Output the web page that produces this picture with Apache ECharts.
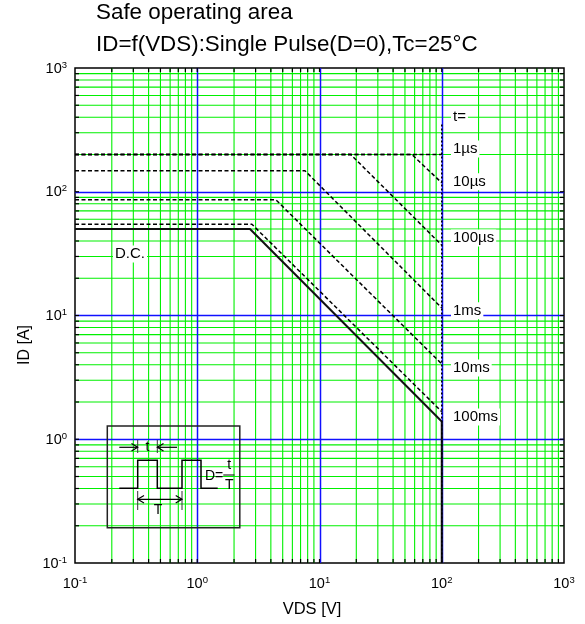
<!DOCTYPE html>
<html><head><meta charset="utf-8">
<script src="https://cdn.jsdelivr.net/npm/echarts@6/dist/echarts.min.js"></script>
<style>html,body{margin:0;padding:0;background:#fff}#c{width:585px;height:624px}</style>
</head><body><div id="c"></div>
<script>
const FONT = '"Liberation Sans", Arial, Helvetica, sans-serif';
// axis ticks
const tickExponents = [-1, 0, 1, 2, 3];
const decadeStarts = [0.1, 1, 10, 100];
const minorMultipliers = [2, 3, 4, 5, 6, 7, 8, 9];
const majorValues = [1, 10, 100];
// curve labels
const pulseLabels = ['1\u00b5s', '10\u00b5s', '100\u00b5s', '1ms', '10ms', '100ms'];
// SOA curves [VDS, ID]
const curve1us   = [[0.1, 200], [100, 200]];
const curve10us  = [[0.1, 200], [57, 200], [100, 118]];
const curve100us = [[0.1, 200], [18, 200], [100, 37]];
const curve1ms   = [[0.1, 148], [7.6, 148], [100, 11.5]];
const curve10ms  = [[0.1, 86], [4.4, 86], [100, 4.06]];
const curve100ms = [[0.1, 54.6], [2.8, 54.6], [100, 1.67]];
const curveDC    = [[0.1, 50], [2.7, 50], [100, 1.39], [100, 0.1]];
const vdsLimit   = [[100, 350], [100, 0.1]];

const minorValues = decadeStarts.flatMap(d => minorMultipliers.map(m => +(d * m).toPrecision(3)));
const allTickValues = minorValues.concat(majorValues);

function vLine(color, width, snap) {
  return function (params, api) {
    const cs = params.coordSys;
    let x = api.coord([api.value(0), 1])[0];
    if (snap) x = Math.round(x) + 0.5;
    return { type: 'line', shape: { x1: x, y1: cs.y, x2: x, y2: cs.y + cs.height }, style: { stroke: color, lineWidth: width } };
  };
}
function hLine(color, width, snap) {
  return function (params, api) {
    const cs = params.coordSys;
    let y = api.coord([1, api.value(1)])[1];
    if (snap) y = Math.round(y) + 0.5;
    return { type: 'line', shape: { x1: cs.x, y1: y, x2: cs.x + cs.width, y2: y }, style: { stroke: color, lineWidth: width } };
  };
}
function vTicks(params, api) {
  const cs = params.coordSys;
  const x = api.coord([api.value(0), 1])[0];
  const b = cs.y + cs.height, t = cs.y, L = 4;
  return { type: 'group', children: [
    { type: 'line', shape: { x1: x, y1: b, x2: x, y2: b - L }, style: { stroke: '#000', lineWidth: 1.2 } },
    { type: 'line', shape: { x1: x, y1: t, x2: x, y2: t + L }, style: { stroke: '#000', lineWidth: 1.2 } }
  ] };
}
function hTicks(params, api) {
  const cs = params.coordSys;
  const y = api.coord([1, api.value(1)])[1];
  const l = cs.x, r = cs.x + cs.width, L = 4;
  return { type: 'group', children: [
    { type: 'line', shape: { x1: l, y1: y, x2: l + L, y2: y }, style: { stroke: '#000', lineWidth: 1.2 } },
    { type: 'line', shape: { x1: r, y1: y, x2: r - L, y2: y }, style: { stroke: '#000', lineWidth: 1.2 } }
  ] };
}
const vData = v => v.map(x => [x, 1]);
const hData = v => v.map(y => [1, y]);

function expLabel(margin) {
  return {
    margin: margin, fontSize: 14, fontFamily: FONT, color: '#000',
    formatter: function (v) { return '{b|10}{s|' + Math.round(Math.log10(v)) + '}'; },
    rich: {
      b: { fontSize: 14.5, fontFamily: FONT, color: '#000', lineHeight: 16, verticalAlign: 'bottom' },
      s: { fontSize: 9.5, fontFamily: FONT, color: '#000', lineHeight: 10, verticalAlign: 'top' }
    },
    showMinLabel: true, showMaxLabel: true
  };
}
function axisCfg(margin) {
  return {
    type: 'log', logBase: 10, min: 0.1, max: 1000,
    axisLine: { show: false }, axisTick: { show: false },
    splitLine: { show: false }, minorTick: { show: false }, minorSplitLine: { show: false },
    splitArea: { show: false },
    axisLabel: expLabel(margin)
  };
}

function curve(name, data, dashed) {
  return {
    name: name, type: 'line', data: data, symbol: 'none', z: 10, silent: true,
    lineStyle: dashed ? { color: '#000', width: 1.5, type: [4, 2.5] } : { color: '#111', width: 2, type: 'solid' }
  };
}

function txt(text, x, y, size, extra) {
  return Object.assign({ type: 'text', z: 100, style: Object.assign({
    text: text, x: x, y: y, fill: '#000', fontSize: size, fontFamily: FONT, align: 'left', verticalAlign: 'middle'
  }, extra || {}) });
}
function ln(x1, y1, x2, y2, w, c) {
  return { type: 'line', z: 100, shape: { x1: x1, y1: y1, x2: x2, y2: y2 }, style: { stroke: c || '#000', lineWidth: w || 1.2 } };
}
function pl(points, w, c) {
  return { type: 'polyline', z: 100, shape: { points: points }, style: { stroke: c || '#000', lineWidth: w || 1.2, fill: null } };
}

const labelY = [149, 181.7, 238, 310.7, 368, 417];
const labelBox = { backgroundColor: '#fff', padding: [1, 2] };
const graphics = [
  txt('t=', 451, 116.7, 15, labelBox),
  txt('D.C.', 113, 254, 15, labelBox),
  txt('VDS [V]', 312, 609, 16.5, { align: 'center' }),
  { type: 'text', z: 100, x: 25, y: 345, rotation: Math.PI / 2,
    style: { text: 'ID [A]', x: 0, y: 0, fill: '#000', fontSize: 16, fontFamily: FONT, align: 'center', verticalAlign: 'middle' } },
  // inset
  { type: 'rect', z: 100, shape: { x: 107.3, y: 426, width: 132.5, height: 101.7 }, style: { fill: null, stroke: '#222', lineWidth: 1.5 } },
  pl([[119.3, 488.3], [137.7, 488.3], [137.7, 460.3], [157.3, 460.3], [157.3, 488.3], [182, 488.3], [182, 460.3], [201, 460.3], [201, 488.3], [217.7, 488.3]], 1.5),
  ln(137.7, 440, 137.7, 453, 1, '#333'), ln(157.3, 440, 157.3, 453, 1, '#333'),
  ln(119.3, 447.3, 137.7, 447.3), pl([[131.5, 443.5], [137.7, 447.3], [131.5, 451]]),
  ln(177, 447.3, 157.3, 447.3), pl([[163.5, 443.5], [157.3, 447.3], [163.5, 451]]),
  txt('t', 147.5, 447.5, 14, { align: 'center' }),
  ln(137.7, 491, 137.7, 510, 1, '#333'), ln(182, 491, 182, 510, 1, '#333'),
  ln(137.7, 499.3, 182, 499.3), pl([[144, 495.5], [137.7, 499.3], [144, 503]]), pl([[175.7, 495.5], [182, 499.3], [175.7, 503]]),
  txt('T', 158, 510, 14, { align: 'center' }),
  txt('D=', 205, 476, 14),
  txt('t', 229.3, 465.5, 14, { align: 'center' }),
  ln(223.3, 475, 234.5, 475, 1),
  txt('T', 229.3, 485.5, 14, { align: 'center' })
];
pulseLabels.forEach((l, i) => graphics.push(txt(l, 451, labelY[i], 15, labelBox)));

const chart = echarts.init(document.getElementById('c'), null, { renderer: 'canvas' });
chart.setOption({
  animation: false,
  backgroundColor: '#fff',
  title: {
    text: 'Safe operating area\nID=f(VDS):Single Pulse(D=0),Tc=25\u00b0C',
    left: 96, top: -3, padding: 0,
    textStyle: { fontSize: 22.4, lineHeight: 32, fontWeight: 'normal', color: '#000', fontFamily: FONT }
  },
  grid: { left: 75, top: 68, right: 21, bottom: 61, show: true, borderColor: '#000', borderWidth: 1.5, backgroundColor: '#fff', z: 1 },
  xAxis: axisCfg(12),
  yAxis: axisCfg(8),
  series: [
    { type: 'custom', silent: true, z: 3, renderItem: vLine('#00f000', 1.1, false), data: vData(minorValues), encode: { x: 0, y: 1 } },
    { type: 'custom', silent: true, z: 3, renderItem: hLine('#00f000', 1.1, false), data: hData(minorValues), encode: { x: 0, y: 1 } },
    { type: 'custom', silent: true, z: 4, renderItem: vLine('#1010ff', 1.5, true), data: vData(majorValues), encode: { x: 0, y: 1 } },
    { type: 'custom', silent: true, z: 4, renderItem: hLine('#1010ff', 1.5, true), data: hData(majorValues), encode: { x: 0, y: 1 } },
    { type: 'custom', silent: true, z: 5, renderItem: vTicks, data: vData(allTickValues), encode: { x: 0, y: 1 } },
    { type: 'custom', silent: true, z: 5, renderItem: hTicks, data: hData(allTickValues), encode: { x: 0, y: 1 } },
    curve('1\u00b5s', curve1us, true),
    curve('10\u00b5s', curve10us, true),
    curve('100\u00b5s', curve100us, true),
    curve('1ms', curve1ms, true),
    curve('10ms', curve10ms, true),
    curve('100ms', curve100ms, true),
    { name: 'VDS limit', type: 'line', data: vdsLimit, symbol: 'none', z: 11, silent: true, lineStyle: { color: '#000', width: 1.5, type: [2, 2] } },
    curve('D.C.', curveDC, false)
  ],
  graphic: graphics
});
</script></body></html>
